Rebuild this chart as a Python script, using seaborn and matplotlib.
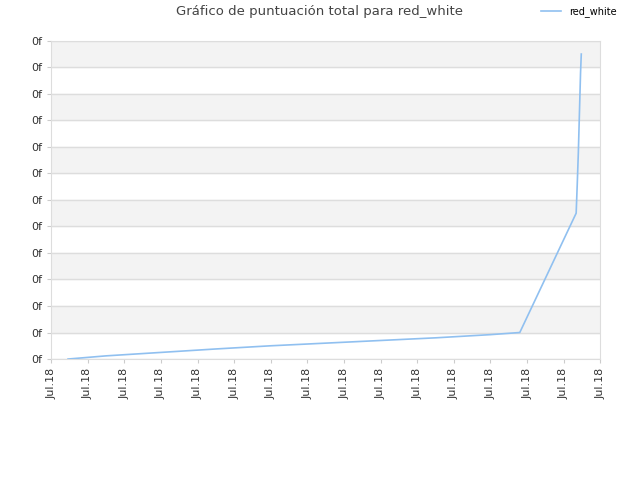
import matplotlib
matplotlib.use("Agg")
import matplotlib.pyplot as plt
import seaborn as sns
import pandas as pd

x_vals = [0.46, 1.5, 3.0, 4.5, 6.0, 7.5, 9.0, 10.5, 12.0, 12.8, 14.34, 14.37, 14.40, 14.43, 14.46, 14.48]
y_vals = [0.0, 0.12, 0.25, 0.38, 0.5, 0.6, 0.7, 0.8, 0.92, 1.0, 5.5, 6.6, 7.8, 9.3, 10.8, 11.5]
x_ticks = list(range(16))
x_labels = ["Jul.18"] * 16
y_ticks = list(range(13))
y_labels = ["0f"] * 13

df = pd.DataFrame({"x": x_vals, "y": y_vals})
fig = plt.figure(figsize=(6.4, 4.8), dpi=100)
ax = fig.add_axes([0.08, 0.252, 0.858, 0.663])
for i in range(1, 12, 2):
    ax.axhspan(i, i + 1, color="#f3f3f3", zorder=0)
sns.lineplot(data=df, x="x", y="y", ax=ax, color="#90c0f0", linewidth=1.2, label="red_white", zorder=3)
ax.set_xlim(0, 15)
ax.set_ylim(0, 12)
ax.set_xticks(x_ticks)
ax.set_xticklabels(x_labels, rotation=90, fontsize=8, color="#333333")
ax.set_yticks(y_ticks)
ax.set_yticklabels(y_labels, fontsize=8, color="#333333")
ax.grid(axis="y", color="#dddddd", linewidth=1)
ax.set_axisbelow(True)
ax.set_xlabel("")
ax.set_ylabel("")
for s in ax.spines.values():
    s.set_color("#dddddd")
ax.tick_params(length=3, color="#cccccc")
fig.suptitle("Gráfico de puntuación total para red_white", fontsize=9.5, color="#444444", y=0.99)
leg = ax.legend(loc="upper right", bbox_to_anchor=(1.045, 1.135), frameon=False, fontsize=7)
fig.savefig("out.png", dpi=100)
